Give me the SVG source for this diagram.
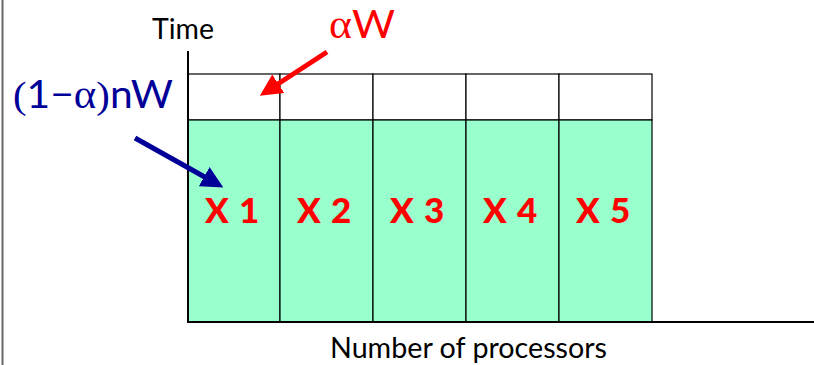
<svg xmlns="http://www.w3.org/2000/svg" width="814" height="365" viewBox="0 0 814 365">
<style>
.cell{fill:#99FFCC;stroke:#000;stroke-width:1.2}
.top{fill:#fff;stroke:#000;stroke-width:1.2}
.lbl{font-family:"Lato","Liberation Sans",sans-serif;font-weight:900;font-size:35px;fill:#FF0000;letter-spacing:1px}
.ax{font-family:"Lato","Liberation Sans",sans-serif;fill:#000}
.g{font-family:"Liberation Serif",serif}
</style>
<defs>
<marker id="hr" markerWidth="4.4" markerHeight="4.4" refX="3.4" refY="2.2" orient="auto" markerUnits="strokeWidth"><path d="M0,0 L4.4,2.2 L0,4.4 z" fill="#FF0000"/></marker>
<marker id="hb" markerWidth="4.4" markerHeight="4.4" refX="3.4" refY="2.2" orient="auto" markerUnits="strokeWidth"><path d="M0,0 L4.4,2.2 L0,4.4 z" fill="#000099"/></marker>
</defs>
<rect width="814" height="365" fill="#fff"/>
<line x1="2.5" y1="0" x2="2.5" y2="365" stroke="#666" stroke-width="2"/>
<g id="top-row">
<rect class="top" x="188" y="74" width="92" height="46"/>
<rect class="top" x="280" y="74" width="93" height="46"/>
<rect class="top" x="373" y="74" width="93" height="46"/>
<rect class="top" x="466" y="74" width="93" height="46"/>
<rect class="top" x="559" y="74" width="93" height="46"/>
</g>
<g id="p1"><rect class="cell" x="188" y="120" width="92" height="202"/><text class="lbl" x="205" y="223">X 1</text></g>
<g id="p2"><rect class="cell" x="280" y="120" width="93" height="202"/><text class="lbl" x="297" y="223">X 2</text></g>
<g id="p3"><rect class="cell" x="373" y="120" width="93" height="202"/><text class="lbl" x="390" y="223">X 3</text></g>
<g id="p4"><rect class="cell" x="466" y="120" width="93" height="202"/><text class="lbl" x="483" y="223">X 4</text></g>
<g id="p5"><rect class="cell" x="559" y="120" width="93" height="202"/><text class="lbl" x="576" y="223">X 5</text></g>
<g id="axes" stroke="#000">
<line x1="188" y1="51" x2="188" y2="323" stroke-width="2"/>
<line x1="187" y1="322" x2="814" y2="322" stroke-width="2"/>
</g>
<text class="ax" x="152" y="39" font-size="28" textLength="62" lengthAdjust="spacingAndGlyphs">Time</text>
<text class="ax" x="330" y="358" font-size="28.5" textLength="277" lengthAdjust="spacingAndGlyphs">Number of processors</text>
<text x="329" y="38" font-family="Lato,Liberation Sans,sans-serif" font-size="38" fill="#FF0000" textLength="66" lengthAdjust="spacingAndGlyphs"><tspan class="g" font-size="40">α</tspan>W</text>
<text x="13" y="108" font-family="Lato,Liberation Sans,sans-serif" font-size="38" fill="#000099" textLength="160" lengthAdjust="spacingAndGlyphs"><tspan class="g">(</tspan>1−<tspan class="g" font-size="40">α</tspan><tspan class="g">)</tspan>nW</text>
<g id="connectors">
<line x1="327" y1="52" x2="264" y2="93" stroke="#FF0000" stroke-width="5" marker-end="url(#hr)"/>
<line x1="135" y1="138" x2="219" y2="185" stroke="#000099" stroke-width="5" marker-end="url(#hb)"/>
</g>
</svg>
